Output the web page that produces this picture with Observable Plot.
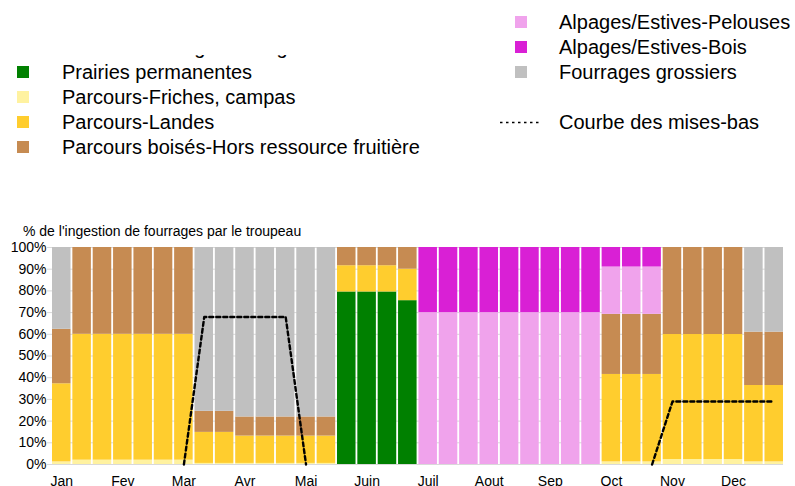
<!DOCTYPE html>
<html><head><meta charset="utf-8">
<script src="https://cdn.jsdelivr.net/npm/d3@7"></script>
<script src="https://cdn.jsdelivr.net/npm/@observablehq/plot@0.6"></script>
<style>
body{margin:0;background:#fff;font-family:"Liberation Sans",Arial,sans-serif;color:#000}
#wrap{position:relative;width:795px;height:486px;overflow:hidden;background:#fff}
.clip{position:absolute;overflow:hidden}
.row{position:absolute;height:25px;line-height:25px;font-size:20px;white-space:nowrap}
.sw{position:absolute;width:12px;height:12px;top:6.5px}
#ytitle{position:absolute;left:23px;top:222px;font-size:14px;line-height:18px;white-space:nowrap}
#chart{position:absolute;left:0;top:222px}
</style></head>
<body>
<div id="wrap">
  <div class="clip" id="legLeft" style="left:0;top:55px;width:480px;height:110px"></div>
  <div class="clip" id="legRight" style="left:490px;top:0;width:305px;height:140px"></div>
  <div id="ytitle"></div>
  <div id="chart"></div>
</div>
<script>
// ---- data ----
const months = ["Jan","Fev","Mar","Avr","Mai","Juin","Juil","Aout","Sep","Oct","Nov","Dec"];
const decades = ["1","2","3"];
const yTicks = [0,10,20,30,40,50,60,70,80,90,100];
const yTitle = "% de l'ingestion de fourrages par le troupeau";

const categories = [
  "Cultures fourragères-Regain",
  "Prairies permanentes",
  "Parcours-Friches, campas",
  "Parcours-Landes",
  "Parcours boisés-Hors ressource fruitière",
  "Alpages/Estives-Pelouses",
  "Alpages/Estives-Bois",
  "Fourrages grossiers"
];
const colors = ["#9ccf7a","#008000","#FFF2A0","#FFCD2E","#C68B52","#F0A3EC","#D920D5","#C0C0C0"];
const curveLabel = "Courbe des mises-bas";

const culturesRegain      = [0,0,0, 0,0,0, 0,0,0, 0,0,0, 0,0,0, 0,0,0, 0,0,0, 0,0,0, 0,0,0, 0,0,0, 0,0,0, 0,0,0];
const prairiesPermanentes = [0,0,0, 0,0,0, 0,0,0, 0,0,0, 0,0,79.5, 79.5,79.5,75.5, 0,0,0, 0,0,0, 0,0,0, 0,0,0, 0,0,0, 0,0,0];
const friches             = [1.2,2,2, 2,2,2, 2,0.5,0.5, 0.5,0.5,0.5, 0.5,0.5,0, 0,0,0, 0,0,0, 0,0,0, 0,0,0, 1.2,1.2,1.2, 2.3,2.3,2.3, 2.3,1.2,1.2];
const landes              = [36,58,58, 58,58,58, 58,14.3,14.3, 12.6,12.6,12.6, 12.6,12.6,12.1, 12.1,12.1,14.5, 0,0,0, 0,0,0, 0,0,0, 40.3,40.3,40.3, 57.6,57.6,57.6, 57.6,35.2,35.2];
const boises              = [25.1,40,40, 40,40,40, 40,9.7,9.7, 8.8,8.8,8.8, 8.8,8.8,8.4, 8.4,8.4,10, 0,0,0, 0,0,0, 0,0,0, 27.7,27.7,27.7, 40.1,40.1,40.1, 40.1,24.6,24.6];
const pelouses            = [0,0,0, 0,0,0, 0,0,0, 0,0,0, 0,0,0, 0,0,0, 70,70,70, 70,70,70, 70,70,70, 21.8,21.8,21.8, 0,0,0, 0,0,0];
const boisAlpages         = [0,0,0, 0,0,0, 0,0,0, 0,0,0, 0,0,0, 0,0,0, 30,30,30, 30,30,30, 30,30,30, 9,9,9, 0,0,0, 0,0,0];
const grossiers           = [37.7,0,0, 0,0,0, 0,75.5,75.5, 78.1,78.1,78.1, 78.1,78.1,0, 0,0,0, 0,0,0, 0,0,0, 0,0,0, 0,0,0, 0,0,0, 0,39,39];
const misesBas            = [null,null,null, null,null,null, 0,68,68, 68,68,68, 0,null,null, null,null,null, null,null,null, null,null,null, null,null,null, null,null,0, 29,29,29, 29,29,29];

// ---- build tables ----
const periods = months.flatMap(m => decades.map(d => `${m} ${d}`));
const firstPeriods = months.map(m => `${m} 1`);
const series = [culturesRegain, prairiesPermanentes, friches, landes, boises, pelouses, boisAlpages, grossiers];
const table = [];
series.forEach((vals, ci) => vals.forEach((v, i) => { if (v > 0) table.push({period: periods[i], category: categories[ci], value: v}); }));
const curve = misesBas.map((v, i) => ({period: periods[i], value: v}));

// ---- legend ----
function addRow(container, cy, label, color, swLeft, textLeft, dotted) {
  const row = document.createElement("div");
  row.className = "row";
  row.style.top = (cy - 12.5) + "px";
  row.style.left = "0px";
  if (dotted) {
    const s = document.createElementNS("http://www.w3.org/2000/svg", "svg");
    s.setAttribute("width", 50); s.setAttribute("height", 25);
    s.style.position = "absolute"; s.style.left = swLeft + "px"; s.style.top = "0px";
    s.innerHTML = '<line x1="0" y1="12.5" x2="40" y2="12.5" stroke="#000" stroke-width="1.6" stroke-dasharray="2.5,3.5"/>';
    row.appendChild(s);
  } else {
    const sw = document.createElement("div");
    sw.className = "sw"; sw.style.left = swLeft + "px"; sw.style.background = color;
    row.appendChild(sw);
  }
  const t = document.createElement("span");
  t.style.position = "absolute"; t.style.left = textLeft + "px";
  t.textContent = label;
  row.appendChild(t);
  container.appendChild(row);
}
const legLeft = document.getElementById("legLeft");
const legRight = document.getElementById("legRight");
// left column (clipped at the top like the reference)
[0,1,2,3,4].forEach((ci, k) => addRow(legLeft, 47 + 25*k - 55, categories[ci], colors[ci], 17, 62));
// right column
[5,6,7].forEach((ci, k) => addRow(legRight, 22 + 25*k, categories[ci], colors[ci], 25, 69));
addRow(legRight, 122, curveLabel, null, 10, 69, true);

document.getElementById("ytitle").textContent = yTitle;

// ---- chart ----
const chart = Plot.plot({
  width: 795,
  height: 264,
  marginTop: 25,
  marginBottom: 22,
  marginLeft: 52,
  marginRight: 12,
  style: {fontFamily: "'Liberation Sans', Arial, sans-serif", fontSize: "14px", color: "#000", background: "transparent", overflow: "visible"},
  x: {type: "band", domain: periods, paddingInner: 0.09, paddingOuter: 0, round: false, label: null},
  y: {domain: [0, 100], label: null},
  color: {domain: categories, range: colors},
  marks: [
    Plot.gridY(yTicks, {stroke: "#d9d9d9", strokeOpacity: 1}),
    Plot.axisY(yTicks, {tickSize: 5, tickPadding: 1, stroke: "#d9d9d9", tickFormat: d => d + "%", label: null}),
    Plot.axisX(firstPeriods, {tickSize: 0, tickPadding: 12, tickFormat: d => d.split(" ")[0], label: null}),
    Plot.barY(table, {x: "period", y: "value", fill: "category", order: categories}),
    Plot.line(curve, {x: "period", y: "value", stroke: "#000", strokeWidth: 2.4, strokeDasharray: "4,3"})
  ]
});
document.getElementById("chart").appendChild(chart);
</script>
</body></html>
